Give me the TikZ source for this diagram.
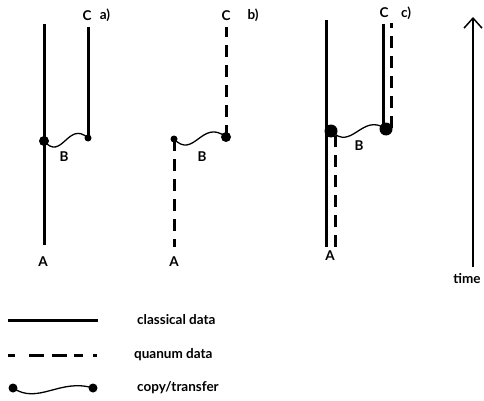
\documentclass[tikz,border=0pt]{standalone}
\usepackage{fontspec}
\setmainfont{Lato}
\usetikzlibrary{arrows.meta}
\begin{document}
\begin{tikzpicture}[x=1pt,y=-1pt,
  classical/.style={line width=3pt},
  quantum/.style={line width=3pt,dash pattern=on 12pt off 8pt},
  wave/.style={line width=1.3pt},
  dotbig/.style={circle,fill=black,inner sep=0pt,minimum size=13pt},
  dotmed/.style={circle,fill=black,inner sep=0pt,minimum size=10pt},
  dotsm/.style={circle,fill=black,inner sep=0pt,minimum size=7pt},
  dotleg/.style={circle,fill=black,inner sep=0pt,minimum size=9pt},
  lbl/.style={font=\fontsize{13.5}{16}\selectfont\bfseries,inner sep=0pt},
  txt/.style={font=\fontsize{13.5}{16}\selectfont\bfseries,inner sep=0pt,anchor=west}]
\useasboundingbox (0,0) rectangle (484,401);
% panel a
\coordinate (aA1) at (44,24);
\coordinate (aA2) at (44,245);
\coordinate (aC1) at (88,27);
\node[dotmed] (aB1) at (44,141) {};
\node[dotsm] (aB2) at (88,138) {};
\draw[classical] (aA2) -- (aA1);
\draw[classical] (aB2.center) -- (aC1);
\draw[wave] (aB1.center) .. controls (62,162) and (68,120) .. (aB2.center);
\node[lbl] (aA) at (43,262) {A};
\node[lbl] (aB) at (64,157) {B};
\node[lbl] (aC) at (87,16) {C};
\node[lbl] (a) at (105,15) {a)};
% panel b
\node[dotsm] (bB1) at (174,139) {};
\node[dotmed] (bB2) at (226,137) {};
\coordinate (bA2) at (174,247);
\coordinate (bC1) at (226,27);
\draw[quantum] (bB1.center) -- (bA2);
\draw[quantum] (bB2.center) -- (bC1);
\draw[wave] (bB1.center) .. controls (194,160) and (202,118) .. (bB2.center);
\node[lbl] (bA) at (174,262) {A};
\node[lbl] (bB) at (202,157) {B};
\node[lbl] (bC) at (226,16) {C};
\node[lbl] (b) at (253,15) {b)};
% panel c
\coordinate (cA1) at (326,20);
\coordinate (cA2) at (326,247);
\coordinate (cQ1) at (335,136);
\coordinate (cQ2) at (335,247);
\coordinate (cC1) at (383,24);
\coordinate (cC2) at (383,128);
\coordinate (cD1) at (391,23);
\coordinate (cD2) at (391,128);
\draw[classical] (cA2) -- (cA1);
\draw[quantum] (cQ2) -- (cQ1);
\draw[classical] (cC2) -- (cC1);
\draw[quantum] (cD2) -- (cD1);
\node[dotbig] (cB1) at (331,131) {};
\node[dotbig] (cB2) at (386,129) {};
\draw[wave] (cB1.center) .. controls (352,152) and (362,112) .. (cB2.center);
\node[lbl] (cA) at (330,256) {A};
\node[lbl] (cB) at (359,146) {B};
\node[lbl] (cC) at (384,13) {C};
\node[lbl] (c) at (406,13) {c)};
% time arrow
\coordinate (t1) at (473,267);
\coordinate (t2) at (473,17);
\draw[line width=1.5pt,-{Straight Barb[length=10pt,width=18pt,line width=1.5pt]}] (t1) -- (t2);
\node[lbl] (time) at (467,279) {time};
% legend
\coordinate (l1a) at (8,320);
\coordinate (l1b) at (98,320);
\draw[classical] (l1a) -- (l1b);
\node[txt] (t1) at (137,320) {classical data};
\coordinate (l2a) at (8,355);
\coordinate (l2b) at (97,355);
\draw[line width=3pt,dash pattern=on 7pt off 14pt on 15pt off 8pt on 15pt off 7pt on 9pt off 10pt on 5pt] (l2a) -- (l2b);
\node[txt] (t2) at (134,355) {quanum data};
\node[dotleg] (l3a) at (13,388) {};
\node[dotleg] (l3b) at (93,388) {};
\draw[wave] (l3a.center) .. controls (38,405) and (60,378) .. (l3b.center);
\node[txt] (t3) at (137,388) {copy/transfer};
\end{tikzpicture}
\end{document}
